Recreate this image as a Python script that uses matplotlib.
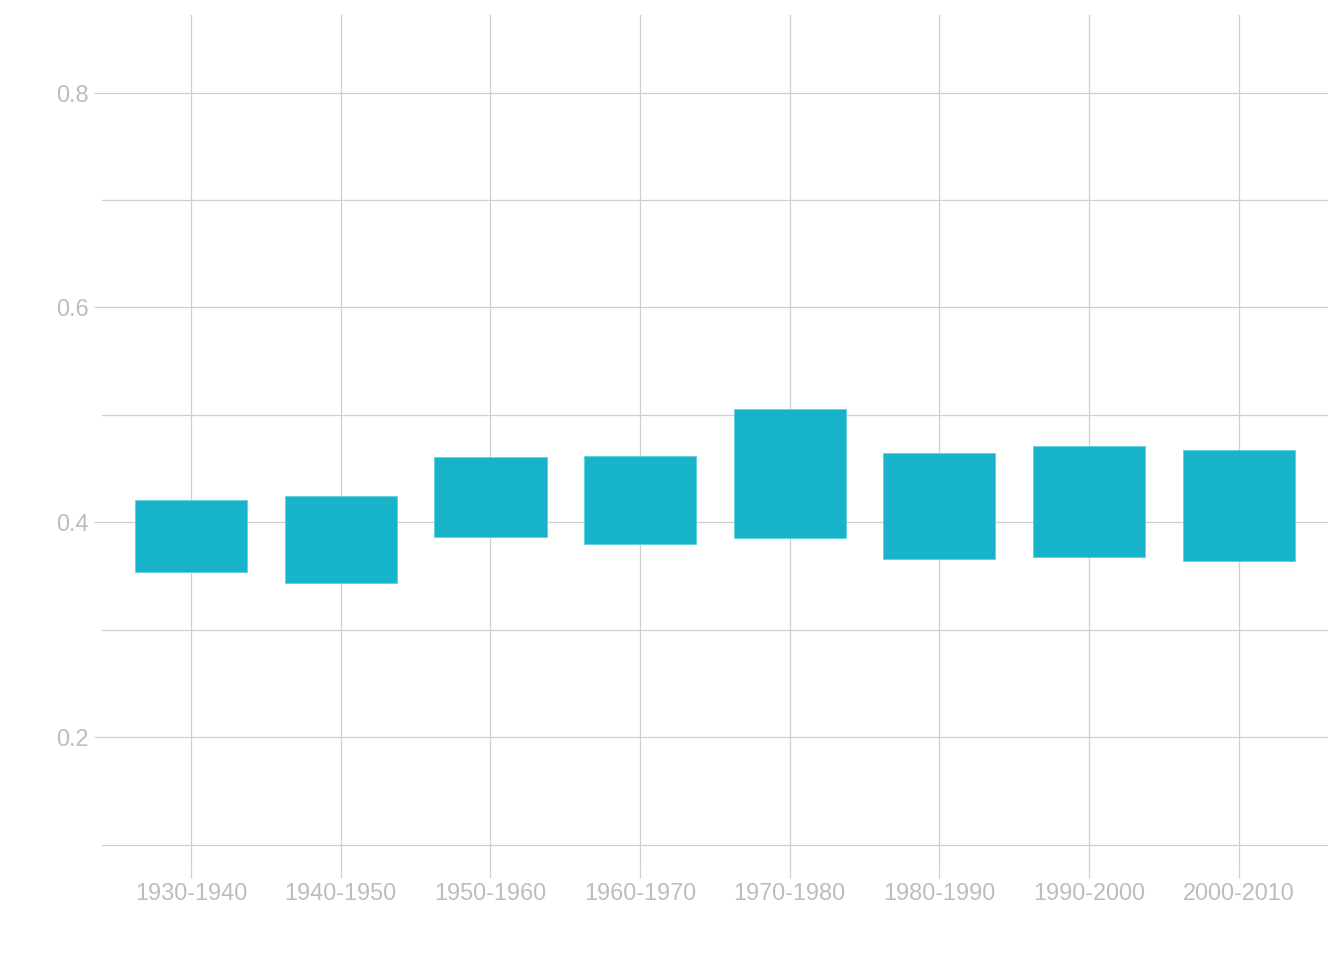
import numpy as np
import matplotlib.pyplot as plt
from matplotlib.ticker import MultipleLocator

plt.rcParams['font.family'] = ['Liberation Sans', 'DejaVu Sans']

decades = ['1930-1940', '1940-1950', '1950-1960', '1960-1970',
           '1970-1980', '1980-1990', '1990-2000', '2000-2010']
low = [0.354, 0.343, 0.386, 0.380, 0.385, 0.366, 0.368, 0.364]
high = [0.421, 0.424, 0.461, 0.462, 0.505, 0.464, 0.471, 0.467]

bar_color = '#17b3c9'
text_color = '#bdbdbd'
grid_color = '#cfcfcf'

fig = plt.figure(figsize=(13.44, 9.6), dpi=100)
ax = fig.add_axes([0.0759, 0.0935, 0.912, 0.8905])

x = np.arange(len(decades))
heights = np.array(high) - np.array(low)
ax.bar(x, heights, bottom=low, width=0.75, color=bar_color,
       edgecolor='#5fd0e0', linewidth=0.6, zorder=3)

ax.set_xlim(-0.595, len(decades) - 1 + 0.595)
ax.set_ylim(0.0761, 0.8718)
ax.set_xticks(x)
ax.set_xticklabels(decades)
ax.yaxis.set_minor_locator(MultipleLocator(0.1))
ax.set_yticks([0.2, 0.4, 0.6, 0.8])
ax.set_yticklabels(['0.2', '0.4', '0.6', '0.8'])

ax.grid(True, which='both', color=grid_color, linewidth=0.9, zorder=0)
ax.set_axisbelow(True)
for s in ax.spines.values():
    s.set_visible(False)

ax.tick_params(axis='both', which='major', length=5.8, width=0.9,
               color=grid_color, labelcolor=text_color, labelsize=16.9, pad=3.5)
ax.tick_params(axis='x', which='major', pad=2.8)
ax.tick_params(axis='y', which='minor', length=0)

plt.savefig('out.png', dpi=100)
plt.close()
